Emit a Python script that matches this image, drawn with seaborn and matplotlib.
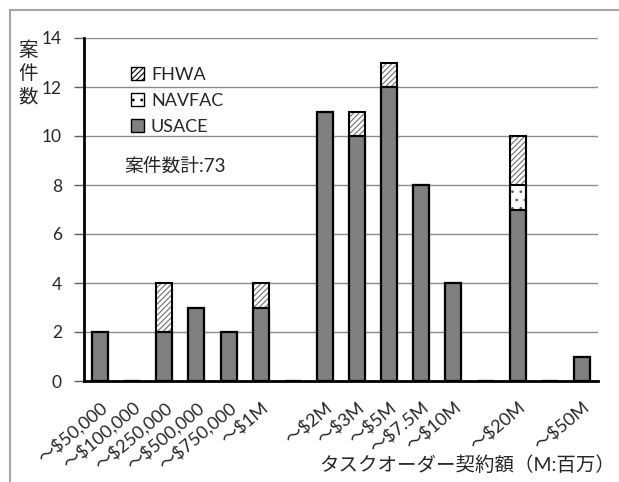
import matplotlib
matplotlib.use("Agg")
import matplotlib.pyplot as plt
import matplotlib.patches as mpatches
import seaborn as sns
import numpy as np

categories = ["～$50,000", "～$100,000", "～$250,000", "～$500,000", "～$750,000", "～$1M", " ",
              "～$2M", "～$3M", "～$5M", "～$7.5M", "～$10M", "  ", "～$20M", "   ", "～$50M"]
usace = [2, 0, 2, 3, 2, 3, 0, 11, 10, 12, 8, 4, 0, 7, 0, 1]
navfac = [0, 0, 0, 0, 0, 0, 0, 0, 0, 0, 0, 0, 0, 1, 0, 0]
fhwa = [0, 0, 2, 0, 0, 1, 0, 0, 1, 1, 0, 0, 0, 2, 0, 0]
series_names = ["FHWA", "NAVFAC", "USACE"]
total_label = "案件数計:73"
y_label = "案\n件\n数"
x_label = "タスクオーダー契約額（M:百万）"
y_ticks = [0, 2, 4, 6, 8, 10, 12, 14]

sns.set_theme(style="white")
plt.rcParams['font.family'] = ['Lato', 'Noto Sans CJK JP', 'DejaVu Sans']
plt.rcParams['hatch.linewidth'] = 0.8

fig = plt.figure(figsize=(6.19, 4.82), dpi=100)
ax = fig.add_axes([84/619, 1-381/482, (598-84)/619, (381-38)/482])

u = np.array(usace)
un = u + np.array(navfac)
tot = un + np.array(fhwa)

gray = "#808080"
sns.barplot(x=categories, y=tot, order=categories, color="white", saturation=1,
            width=0.5, hatch="//////", edgecolor="#707070", linewidth=0, ax=ax, zorder=2)
sns.barplot(x=categories, y=un, order=categories, color="white", saturation=1,
            width=0.5, hatch="..", edgecolor="#606060", linewidth=0, ax=ax, zorder=2)
sns.barplot(x=categories, y=u, order=categories, color=gray, saturation=1,
            width=0.5, linewidth=0, ax=ax, zorder=2)
for vals in (tot, un, u):
    sns.barplot(x=categories, y=vals, order=categories, color="black", fill=False,
                width=0.5, linewidth=1.5, ax=ax, zorder=3)

ax.set_xlim(-0.5, 15.5)
ax.set_ylim(0, 14)
ax.set_yticks(y_ticks)
ax.set_yticklabels([str(t) for t in y_ticks], fontsize=12.5)
ax.yaxis.grid(True, color="#8c8c8c", linewidth=1)
ax.set_axisbelow(True)
for s in ("top", "right"):
    ax.spines[s].set_visible(False)
for s in ("left", "bottom"):
    ax.spines[s].set_color("black")
    ax.spines[s].set_linewidth(2)
    ax.spines[s].set_zorder(4)
ax.tick_params(axis="y", which="both", left=True, length=7, width=1, color="#606060", pad=9)
ax.tick_params(axis="x", bottom=False, pad=7)
ax.set_xticks(range(len(categories)))
ax.set_xticklabels(categories, rotation=40, ha="right", rotation_mode="anchor", fontsize=13)
ax.set_xlabel("")
ax.set_ylabel("")

handles = [
    mpatches.Patch(facecolor="white", hatch="//////", edgecolor="black", linewidth=1),
    mpatches.Patch(facecolor="white", hatch="..", edgecolor="black", linewidth=1),
    mpatches.Patch(facecolor=gray, edgecolor="black", linewidth=1),
]
leg = fig.legend(handles, series_names, loc="upper left", bbox_to_anchor=(122/619, 1-58/482),
                 frameon=False, fontsize=13, handlelength=0.7, handleheight=0.7,
                 handletextpad=0.4, labelspacing=0.55, borderpad=0)

fig.text(124/619, 1-166/482, total_label, fontsize=13.5, ha="left", va="center")
fig.text(28/619, 1-73/482, y_label, fontsize=14, ha="center", va="center", linespacing=1.4)
fig.text(615/619, 1-465/482, x_label, fontsize=14, ha="right", va="center")

border = mpatches.Rectangle((10/619, -0.1), 1.2, 1.1 - 10/482, transform=fig.transFigure,
                            fill=False, edgecolor="#a6a6a6", linewidth=1.5, clip_on=False)
fig.patches.append(border)

fig.savefig("out.png", dpi=100)
